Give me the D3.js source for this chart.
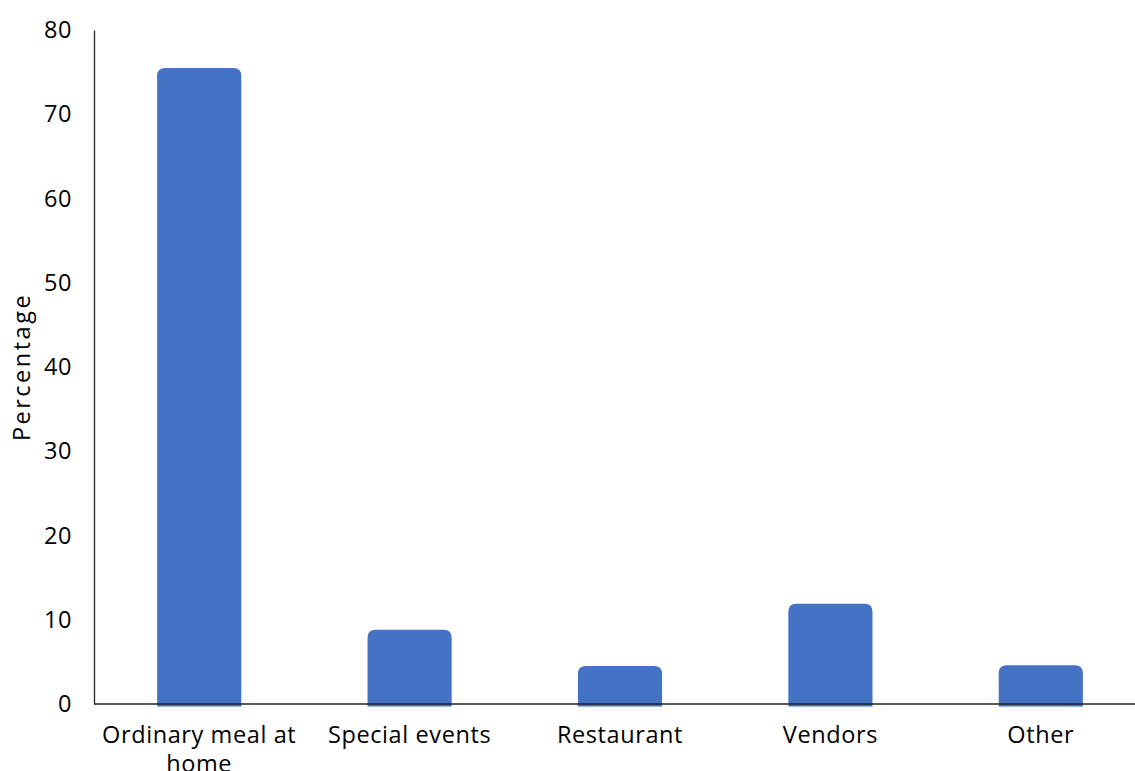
<!DOCTYPE html>
<html>
<head>
<meta charset="utf-8">
<script src="https://cdn.jsdelivr.net/npm/d3@7"></script>
<style>
  html, body { margin: 0; padding: 0; background: #fff; }
  svg { display: block; }
  text { font-family: "Open Sans", "Lato", sans-serif; fill: #000; }
</style>
</head>
<body>
<svg id="chart" width="1135" height="771"></svg>
<script>
// Where the food is eaten, share of responses (%)
const categories = ["Ordinary meal at home", "Special events", "Restaurant", "Vendors", "Other"];
const percentages = [75.5, 8.8, 4.5, 11.9, 4.6];
const yTicks = [0, 10, 20, 30, 40, 50, 60, 70, 80];

const width = 1135, height = 771;
const margin = { left: 94, top: 30, bottom: 67 };
const plotBottom = height - margin.bottom;
const fontFamily = "'Open Sans', Lato, sans-serif";
const fontSize = "23.5px";
const spacing = "0.6px";

const svg = d3.select("#chart");

const x = d3.scaleBand()
  .domain(categories)
  .range([margin.left, 1146])
  .paddingInner(0.6)
  .paddingOuter(0.3);

const y = d3.scaleLinear()
  .domain([0, 80])
  .range([plotBottom, margin.top]);

// bars with rounded top corners, running slightly past the baseline
const r = 8;
const overhang = 2.5;
function barPath(d, i) {
  const x0 = x(categories[i]);
  const w = x.bandwidth();
  const yTop = y(d);
  const yBot = y(0) + overhang;
  return `M${x0},${yBot}V${yTop + r}Q${x0},${yTop} ${x0 + r},${yTop}` +
         `H${x0 + w - r}Q${x0 + w},${yTop} ${x0 + w},${yTop + r}V${yBot}Z`;
}

svg.append("g")
  .selectAll("path")
  .data(percentages)
  .join("path")
  .attr("d", barPath)
  .attr("fill", "#4472C4");

// y axis: line plus labels, no tick marks
const yAxis = svg.append("g")
  .attr("transform", `translate(${margin.left},0)`)
  .call(d3.axisLeft(y).tickValues(yTicks).tickSize(0).tickPadding(22));
yAxis.select(".domain").attr("stroke", "#222").attr("stroke-width", 1.3);
yAxis.selectAll("text")
  .style("font-family", fontFamily)
  .style("font-size", fontSize)
  .style("letter-spacing", spacing)
  .attr("fill", "#000");

// x axis baseline across to the right edge
svg.append("line")
  .attr("x1", margin.left).attr("x2", width)
  .attr("y1", y(0)).attr("y2", y(0))
  .attr("stroke", "#222").attr("stroke-width", 1.3);

// category labels, wrapped to fit the band step
const maxLabelWidth = 205;
const labels = svg.append("g")
  .selectAll("text")
  .data(categories)
  .join("text")
  .attr("text-anchor", "middle")
  .attr("x", d => x(d) + x.bandwidth() / 2)
  .attr("y", 743)
  .style("font-family", fontFamily)
  .style("font-size", fontSize)
  .style("letter-spacing", spacing);

labels.each(function (d) {
  const t = d3.select(this);
  const words = d.split(" ");
  let line = [];
  let tspan = t.append("tspan").attr("x", t.attr("x")).attr("dy", 0);
  words.forEach(w => {
    line.push(w);
    tspan.text(line.join(" "));
    if (tspan.node().getComputedTextLength() > maxLabelWidth && line.length > 1) {
      line.pop();
      tspan.text(line.join(" "));
      line = [w];
      tspan = t.append("tspan").attr("x", t.attr("x")).attr("dy", 29).text(w);
    }
  });
});

// y axis title
svg.append("text")
  .attr("transform", `translate(30,${(margin.top + plotBottom) / 2}) rotate(-90)`)
  .attr("text-anchor", "middle")
  .style("font-family", fontFamily)
  .style("font-size", fontSize)
  .style("letter-spacing", "2.5px")
  .text("Percentage");
</script>
</body>
</html>
